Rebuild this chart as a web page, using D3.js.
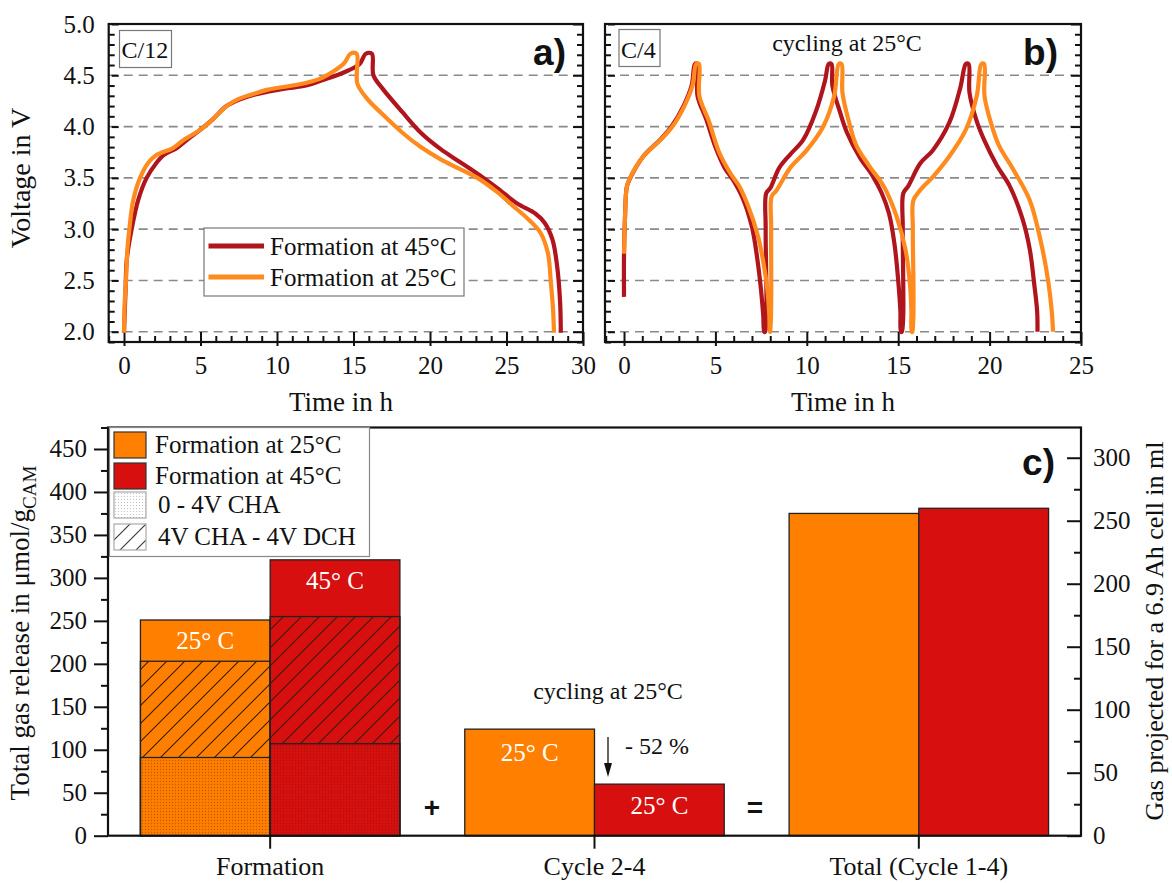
<!DOCTYPE html>
<html>
<head>
<meta charset="utf-8">
<script src="https://cdn.jsdelivr.net/npm/d3@7"></script>
<style>
  body { margin: 0; background: #fff; }
  svg text { font-family: "Liberation Serif", "Times New Roman", serif; fill: #111; }
  .lbl { font-family: "Liberation Sans", Arial, sans-serif !important; font-weight: bold; }
</style>
</head>
<body>
<div class="vis"></div>
<script>
// ---- panel a: formation (C/12) ----
const formation45 = [[0,1.99],[0.1,2.4],[0.18,2.7],[0.5,3.0],[0.94,3.29],[1.48,3.5],[2.14,3.65],[2.57,3.72],[3.44,3.79],[4.2,3.88],[5.0,3.97],[5.8,4.07],[6.7,4.2],[7.5,4.26],[8.5,4.31],[9.4,4.34],[10.5,4.37],[11.9,4.4],[12.9,4.45],[14.4,4.53],[15.4,4.61],[15.8,4.71],[16.2,4.71],[16.3,4.5],[16.9,4.37],[18.2,4.14],[19.4,3.94],[20.7,3.78],[21.9,3.66],[23.2,3.53],[24.4,3.4],[25.7,3.25],[26.9,3.15],[27.5,3.06],[28.0,2.9],[28.3,2.65],[28.5,2.3],[28.55,1.99]]
const formation25 = [[0,1.99],[0.05,2.3],[0.13,2.5],[0.22,2.8],[0.35,3.0],[0.6,3.28],[1.05,3.5],[1.6,3.65],[2.1,3.72],[3.2,3.79],[3.9,3.87],[5.0,3.97],[5.8,4.07],[6.7,4.2],[7.5,4.27],[8.5,4.32],[9.4,4.36],[11.4,4.41],[12.7,4.46],[13.7,4.54],[14.4,4.62],[14.8,4.71],[15.2,4.71],[15.25,4.42],[15.9,4.27],[16.9,4.12],[18.2,3.94],[19.4,3.8],[20.7,3.68],[21.9,3.59],[23.2,3.49],[24.4,3.36],[25.4,3.23],[26.4,3.1],[27.2,2.97],[27.7,2.77],[27.9,2.48],[28.05,2.2],[28.1,1.99]]

// ---- panel b: cycling at 25°C (C/4) ----
const cycling45 = [[0,2.34],[0,2.75],[0.05,3.09],[0.15,3.41],[0.29,3.48],[1.06,3.71],[1.97,3.87],[2.6,4.0],[3.25,4.2],[3.7,4.4],[3.88,4.61],[4.0,4.61],[4.02,4.3],[4.5,4.07],[5.0,3.8],[5.5,3.6],[6.0,3.47],[6.5,3.3],[7.0,3.02],[7.3,2.7],[7.5,2.4],[7.62,2.15],[7.67,2.0],
  [7.72,2.0],[7.75,3.0],[7.78,3.35],[8.0,3.4],[8.5,3.6],[9.1,3.73],[9.8,3.87],[10.5,4.15],[11.0,4.45],[11.2,4.61],[11.35,4.61],[11.4,4.4],[11.8,4.15],[12.2,3.94],[12.9,3.7],[13.6,3.52],[14.1,3.35],[14.5,3.15],[14.8,2.85],[15.0,2.5],[15.12,2.2],[15.15,2.0],
  [15.2,2.0],[15.25,3.0],[15.28,3.35],[15.55,3.42],[16.2,3.64],[16.9,3.77],[17.8,4.04],[18.4,4.38],[18.7,4.61],[18.85,4.61],[18.9,4.33],[19.3,4.05],[19.7,3.87],[20.4,3.62],[21.1,3.42],[21.8,3.1],[22.2,2.8],[22.45,2.45],[22.6,2.2],[22.62,2.0]]
const cycling25 = [[0,2.76],[0.05,3.09],[0.15,3.41],[0.3,3.49],[1.06,3.71],[2.0,3.87],[2.65,4.0],[3.3,4.2],[3.75,4.4],[3.95,4.61],[4.1,4.61],[4.12,4.3],[4.65,4.05],[5.2,3.75],[5.8,3.55],[6.3,3.42],[6.8,3.22],[7.3,2.95],[7.6,2.7],[7.85,2.4],[7.95,2.15],[7.98,2.0],
  [8.0,2.0],[8.05,3.0],[8.08,3.32],[8.35,3.38],[9.1,3.6],[10.0,3.77],[10.9,4.0],[11.5,4.3],[11.75,4.61],[11.9,4.61],[11.95,4.33],[12.3,4.05],[12.7,3.82],[13.4,3.62],[14.2,3.42],[14.9,3.13],[15.4,2.8],[15.65,2.45],[15.72,2.2],[15.74,2.0],
  [15.78,2.0],[15.8,3.0],[15.83,3.28],[16.2,3.38],[16.9,3.51],[17.8,3.71],[18.7,3.97],[19.3,4.3],[19.55,4.61],[19.7,4.61],[19.72,4.3],[20.1,4.02],[20.5,3.82],[21.3,3.58],[22.2,3.28],[22.8,2.88],[23.2,2.5],[23.4,2.2],[23.47,2.0]]

const voltTicks = [2.0, 2.5, 3.0, 3.5, 4.0, 4.5, 5.0]
const timeTicksA = [0, 5, 10, 15, 20, 25, 30]
const timeTicksB = [0, 5, 10, 15, 20, 25]

// ---- panel c: gas release (µmol/g) ----
const gasCategories = ['Formation', 'Cycle 2-4', 'Total (Cycle 1-4)']
const formationDot = [91, 107]      // 0 - 4V CHA   (25°C, 45°C)
const formationHatch = [112, 148]   // 4V CHA - 4V DCH
const formationRest = [48, 66]
const cycleGas = [124, 60]
const totalGas = [375, 381]
const gasTicksLeft = [0, 50, 100, 150, 200, 250, 300, 350, 400, 450]
const gasTicksRight = [0, 50, 100, 150, 200, 250, 300]

const colRedLine = '#b0141c'
const colOrangeLine = '#ff8a1e'
const colOrange = '#ff8000'
const colRed = '#d7100f'

const w = 1172
const h = 883

const svg = d3.select('.vis').append('svg')
  .attr('width', w).attr('height', h)

// patterns
const defs = svg.append('defs')
const dots = defs.append('pattern').attr('id', 'dots')
  .attr('patternUnits', 'userSpaceOnUse').attr('width', 3).attr('height', 3)
dots.append('circle').attr('cx', 1.5).attr('cy', 1.5).attr('r', 0.7).attr('fill', 'rgba(90,20,0,0.35)')
const dotsGray = defs.append('pattern').attr('id', 'dotsGray')
  .attr('patternUnits', 'userSpaceOnUse').attr('width', 3).attr('height', 3)
dotsGray.append('circle').attr('cx', 1.5).attr('cy', 1.5).attr('r', 0.6).attr('fill', '#bbb')
const hatch = defs.append('pattern').attr('id', 'hatch')
  .attr('patternUnits', 'userSpaceOnUse').attr('width', 18).attr('height', 18)
hatch.append('path').attr('d', 'M0,18 L18,0 M-4.5,4.5 L4.5,-4.5 M13.5,22.5 L22.5,13.5')
  .attr('stroke', '#3a1a08').attr('stroke-width', 1.1)
const hatchLeg = defs.append('pattern').attr('id', 'hatchLeg')
  .attr('patternUnits', 'userSpaceOnUse').attr('width', 16).attr('height', 16)
  .attr('x', 114).attr('y', 524)
hatchLeg.append('path').attr('d', 'M0,16 L16,0 M-4,4 L4,-4 M12,20 L20,12')
  .attr('stroke', '#333').attr('stroke-width', 1.1)

// ---------- voltage panels ----------
function voltPanel(x0, x1, xDomain, ticksX, showY) {
  const xs = d3.scaleLinear().domain(xDomain).range([x0, x1])
  const ys = d3.scaleLinear().domain([1.9, 5.0]).range([342, 24])
  const g = svg.append('g')

  // dashed grid
  g.selectAll('.grid').data(voltTicks.slice(0, -1)).enter().append('line')
    .attr('x1', x0).attr('x2', x1)
    .attr('y1', d => ys(d)).attr('y2', d => ys(d))
    .attr('stroke', '#8a8a8a').attr('stroke-width', 1.6).attr('stroke-dasharray', '9,6')

  const minorY = d3.range(19, 50).map(d => d / 10).filter(d => Math.round(d * 10) % 5 != 0)
  const minorX = d3.range(Math.ceil(xDomain[0]), Math.floor(xDomain[1]) + 1).filter(d => d % 5 != 0)

  const yl = g.append('g').attr('transform', 'translate(' + x0 + ',0)')
    .call(d3.axisLeft(ys).tickValues(voltTicks).tickSize(-10).tickPadding(14).tickFormat(d3.format('.1f')))
  yl.selectAll('.tick line').attr('x1', 3)
  g.append('g').attr('transform', 'translate(' + x0 + ',0)')
    .call(d3.axisLeft(ys).tickValues(minorY).tickSize(-6).tickFormat(''))
  g.append('g').attr('transform', 'translate(' + x1 + ',0)')
    .call(d3.axisRight(ys).tickValues(voltTicks).tickSize(-10).tickFormat(''))
  g.append('g').attr('transform', 'translate(' + x1 + ',0)')
    .call(d3.axisRight(ys).tickValues(minorY).tickSize(-6).tickFormat(''))
  const xb = g.append('g').attr('transform', 'translate(0,342)')
    .call(d3.axisBottom(xs).tickValues(ticksX).tickSize(-10).tickPadding(14))
  xb.selectAll('.tick line').attr('y1', 4)
  g.append('g').attr('transform', 'translate(0,342)')
    .call(d3.axisBottom(xs).tickValues(minorX).tickSize(-6).tickFormat(''))

  g.selectAll('.domain').remove()
  g.selectAll('.tick line').attr('stroke', '#111').attr('stroke-width', 2)
  g.selectAll('.tick text').attr('font-size', 25).attr('fill', '#111')
    .style('font-family', '"Liberation Serif", serif')
  if (!showY) yl.selectAll('text').remove()
  xb.selectAll('text').attr('dy', '0.71em')

  return { g: g, xs: xs, ys: ys }
}

function drawCurve(p, data, color) {
  const line = d3.line().x(d => p.xs(d[0])).y(d => p.ys(d[1])).curve(d3.curveCatmullRom.alpha(0.5))
  p.g.append('path').datum(data).attr('d', line)
    .attr('fill', 'none').attr('stroke', color).attr('stroke-width', 4.2)
    .attr('stroke-linejoin', 'round').attr('stroke-linecap', 'butt')
}

function frame(p, x0, x1) {
  p.g.append('rect').attr('x', x0).attr('y', 24).attr('width', x1 - x0).attr('height', 318)
    .attr('fill', 'none').attr('stroke', '#111').attr('stroke-width', 2.2)
}

// panel a
const pa = voltPanel(108.7, 583, [-1, 30], timeTicksA, true)
drawCurve(pa, formation45, colRedLine)
drawCurve(pa, formation25, colOrangeLine)
frame(pa, 108.7, 583)

// panel b
const pb = voltPanel(605, 1081, [-1.04, 25], timeTicksB, false)
drawCurve(pb, cycling45, colRedLine)
drawCurve(pb, cycling25, colOrangeLine)
frame(pb, 605, 1081)

// axis titles a/b
svg.append('text').attr('transform', 'translate(30,178) rotate(-90)')
  .attr('text-anchor', 'middle').attr('font-size', 28).text('Voltage in V')
svg.append('text').attr('x', 341).attr('y', 411).attr('text-anchor', 'middle').attr('font-size', 27).text('Time in h')
svg.append('text').attr('x', 843).attr('y', 411).attr('text-anchor', 'middle').attr('font-size', 27).text('Time in h')

// rate boxes
svg.append('rect').attr('x', 119.5).attr('y', 30.5).attr('width', 52).attr('height', 37)
  .attr('fill', '#fff').attr('stroke', '#777').attr('stroke-width', 1.2)
svg.append('text').attr('x', 121.5).attr('y', 58).attr('font-size', 24).text('C/12')
svg.append('rect').attr('x', 619).attr('y', 29.5).attr('width', 41).attr('height', 37)
  .attr('fill', '#fff').attr('stroke', '#777').attr('stroke-width', 1.2)
svg.append('text').attr('x', 621).attr('y', 58).attr('font-size', 24).text('C/4')
svg.append('text').attr('x', 847).attr('y', 51).attr('text-anchor', 'middle').attr('font-size', 24).text('cycling at 25°C')

svg.append('text').attr('class', 'lbl').attr('x', 566).attr('y', 65).attr('text-anchor', 'end').attr('font-size', 37).text('a)')
svg.append('text').attr('class', 'lbl').attr('x', 1058).attr('y', 65).attr('text-anchor', 'end').attr('font-size', 37).text('b)')

// legend a
svg.append('rect').attr('x', 204).attr('y', 228).attr('width', 260).attr('height', 68)
  .attr('fill', '#fff').attr('stroke', '#777').attr('stroke-width', 1.2)
const legA = [['Formation at 45°C', colRedLine], ['Formation at 25°C', colOrangeLine]]
legA.forEach((d, i) => {
  svg.append('line').attr('x1', 208.5).attr('x2', 264).attr('y1', 246 + i * 31).attr('y2', 246 + i * 31)
    .attr('stroke', d[1]).attr('stroke-width', 5)
  svg.append('text').attr('x', 270).attr('y', 255 + i * 31).attr('font-size', 25).text(d[0])
})

// ---------- panel c ----------
const cLeft = 108, cRight = 1081, cTop = 427.5, cBottom = 835.7
const xC = d3.scaleBand().domain(gasCategories).range([cLeft, cRight]).paddingInner(0.2).paddingOuter(0.1)
const yC = d3.scaleLinear().domain([0, 475]).range([cBottom, cTop])
const yCr = d3.scaleLinear().domain([0, 324]).range([cBottom, cTop])
const bw = xC.bandwidth() / 2
const gc = svg.append('g')

// formation stacked bars
const fColors = [colOrange, colRed]
fColors.forEach((c, i) => {
  const x = xC('Formation') + i * bw
  const tops = [formationDot[i], formationDot[i] + formationHatch[i], formationDot[i] + formationHatch[i] + formationRest[i]]
  gc.append('rect').attr('x', x).attr('y', yC(tops[2])).attr('width', bw).attr('height', cBottom - yC(tops[2]))
    .attr('fill', c)
  gc.append('rect').attr('x', x).attr('y', yC(tops[0])).attr('width', bw).attr('height', cBottom - yC(tops[0]))
    .attr('fill', 'url(#dots)')
  gc.append('rect').attr('x', x).attr('y', yC(tops[1])).attr('width', bw).attr('height', yC(tops[0]) - yC(tops[1]))
    .attr('fill', 'url(#hatch)')
  tops.forEach(t => {
    gc.append('rect').attr('x', x).attr('y', yC(t)).attr('width', bw).attr('height', cBottom - yC(t))
      .attr('fill', 'none').attr('stroke', '#222').attr('stroke-width', 1.3)
  })
})

// cycle and total bars
const simpleBars = [['Cycle 2-4', cycleGas], ['Total (Cycle 1-4)', totalGas]]
simpleBars.forEach(b => {
  b[1].forEach((v, i) => {
    gc.append('rect').attr('x', xC(b[0]) + i * bw).attr('y', yC(v)).attr('width', bw).attr('height', cBottom - yC(v))
      .attr('fill', fColors[i]).attr('stroke', '#222').attr('stroke-width', 1.3)
  })
})

// labels inside bars
const inBar = [
  ['25° C', xC('Formation') + bw / 2, 649],
  ['45° C', xC('Formation') + bw * 1.5, 589],
  ['25° C', xC('Cycle 2-4') + bw / 2, 761],
  ['25° C', xC('Cycle 2-4') + bw * 1.5, 814]
]
inBar.forEach(d => {
  gc.append('text').attr('x', d[1]).attr('y', d[2]).attr('text-anchor', 'middle')
    .attr('font-size', 25).style('fill', '#fff').text(d[0])
})

// axes c
const axL = gc.append('g').attr('transform', 'translate(' + cLeft + ',0)')
  .call(d3.axisLeft(yC).tickValues(gasTicksLeft).tickSize(14).tickPadding(7))
gc.append('g').attr('transform', 'translate(' + cLeft + ',0)')
  .call(d3.axisLeft(yC).tickValues(d3.range(25, 476, 50)).tickSize(7).tickFormat(''))
const axR = gc.append('g').attr('transform', 'translate(' + cRight + ',0)')
  .call(d3.axisRight(yCr).tickValues(gasTicksRight).tickSizeInner(-14).tickSizeOuter(0).tickPadding(12))
axR.selectAll('text').attr('x', 12)
gc.append('g').attr('transform', 'translate(' + cRight + ',0)')
  .call(d3.axisRight(yCr).tickValues(d3.range(25, 324, 50)).tickSize(-7).tickFormat(''))
const axB = gc.append('g').attr('transform', 'translate(0,' + cBottom + ')')
  .call(d3.axisBottom(xC).tickSize(13).tickPadding(8))
gc.selectAll('.domain').remove()
gc.selectAll('.tick line').attr('stroke', '#111').attr('stroke-width', 2)
gc.selectAll('.tick text').attr('font-size', 25).attr('fill', '#111').style('font-family', '"Liberation Serif", serif')
axB.selectAll('text').attr('font-size', 26).attr('dy', '0.71em')

gc.append('rect').attr('x', cLeft).attr('y', cTop).attr('width', cRight - cLeft).attr('height', cBottom - cTop)
  .attr('fill', 'none').attr('stroke', '#111').attr('stroke-width', 2.2)

// annotations c
svg.append('text').attr('x', 608).attr('y', 699).attr('text-anchor', 'middle').attr('font-size', 24).text('cycling at 25°C')
svg.append('text').attr('x', 625).attr('y', 754).attr('font-size', 24).text('- 52 %')
svg.append('line').attr('x1', 608).attr('x2', 608).attr('y1', 737).attr('y2', 766).attr('stroke', '#111').attr('stroke-width', 1.3)
svg.append('path').attr('d', 'M604,763 L612,763 L608,777 Z').attr('fill', '#111')
svg.append('text').attr('class', 'lbl').attr('x', 432).attr('y', 817).attr('text-anchor', 'middle').attr('font-size', 28).text('+')
svg.append('text').attr('class', 'lbl').attr('x', 755).attr('y', 817).attr('text-anchor', 'middle').attr('font-size', 28).text('=')
svg.append('text').attr('class', 'lbl').attr('x', 1055).attr('y', 475).attr('text-anchor', 'end').attr('font-size', 37).text('c)')

// axis titles c
const tl = svg.append('text').attr('transform', 'translate(29,633) rotate(-90)')
  .attr('text-anchor', 'middle').attr('font-size', 27)
tl.append('tspan').text('Total gas release in μmol/g')
tl.append('tspan').attr('font-size', 19).attr('dy', 7).text('CAM')
svg.append('text').attr('transform', 'translate(1163,631) rotate(-90)')
  .attr('text-anchor', 'middle').attr('font-size', 26).text('Gas projected for a 6.9 Ah cell in ml')

// legend c
svg.append('rect').attr('x', 109.5).attr('y', 427.5).attr('width', 260).attr('height', 129)
  .attr('fill', '#fff').attr('stroke', '#888').attr('stroke-width', 1.2)
const legC = [
  ['Formation at 25°C', colOrange, '#333', 432, 155],
  ['Formation at 45°C', colRed, '#333', 463, 155],
  ['0 - 4V CHA', 'url(#dotsGray)', '#aaa', 492, 158],
  ['4V CHA - 4V DCH', 'url(#hatchLeg)', '#aaa', 524, 158]
]
legC.forEach(d => {
  svg.append('rect').attr('x', 114).attr('y', d[3]).attr('width', 32).attr('height', 26)
    .attr('fill', d[1]).attr('stroke', d[2]).attr('stroke-width', 1.2)
  svg.append('text').attr('x', d[4]).attr('y', d[3] + 21).attr('font-size', 25).text(d[0])
})
</script>
</body>
</html>
